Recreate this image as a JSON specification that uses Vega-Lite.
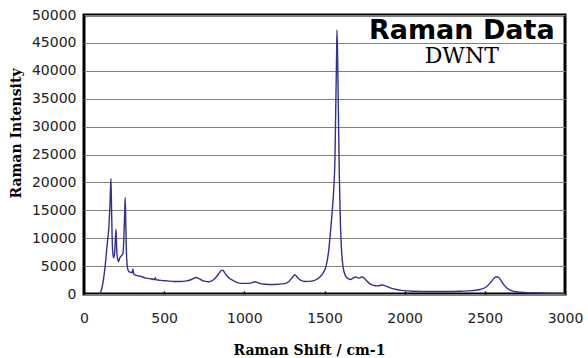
{
  "$schema": "https://vega.github.io/schema/vega-lite/v6.json",
  "width": 481,
  "height": 279,
  "autosize": {"type": "none"},
  "padding": {"top": 15, "left": 84, "right": 23, "bottom": 64},
  "background": "white",
  "title": {
    "text": "Raman Data",
    "subtitle": "DWNT",
    "anchor": "end",
    "align": "center",
    "dx": -121,
    "offset": -60,
    "font": "DejaVu Sans",
    "fontSize": 27,
    "fontWeight": "bold",
    "color": "black",
    "subtitleFont": "DejaVu Serif",
    "subtitleFontSize": 22,
    "subtitleColor": "black",
    "subtitlePadding": 1
  },
  "config": {
    "view": {"stroke": "black", "strokeWidth": 3},
    "axis": {
      "labelFont": "DejaVu Sans",
      "labelFontSize": 14,
      "labelColor": "#222222",
      "titleFont": "DejaVu Serif",
      "titleFontSize": 14,
      "titleFontWeight": "bold",
      "titleColor": "black",
      "domain": false
    }
  },
  "data": {
    "values": [
      {"shift": 100, "intensity": 0},
      {"shift": 115, "intensity": 1500},
      {"shift": 130, "intensity": 4500},
      {"shift": 145, "intensity": 9000},
      {"shift": 155, "intensity": 12000},
      {"shift": 162, "intensity": 16000},
      {"shift": 168, "intensity": 20700},
      {"shift": 172, "intensity": 15000},
      {"shift": 178, "intensity": 8000},
      {"shift": 184, "intensity": 6500},
      {"shift": 190, "intensity": 7000},
      {"shift": 196, "intensity": 10000},
      {"shift": 200, "intensity": 11600},
      {"shift": 204, "intensity": 8000},
      {"shift": 210, "intensity": 6200},
      {"shift": 216, "intensity": 5800},
      {"shift": 222, "intensity": 6400},
      {"shift": 232, "intensity": 6800},
      {"shift": 242, "intensity": 7200},
      {"shift": 248, "intensity": 9500},
      {"shift": 253, "intensity": 14000},
      {"shift": 257, "intensity": 17300},
      {"shift": 261, "intensity": 12000},
      {"shift": 266, "intensity": 6500},
      {"shift": 272, "intensity": 4600},
      {"shift": 280, "intensity": 4000},
      {"shift": 290, "intensity": 3900},
      {"shift": 300, "intensity": 3800},
      {"shift": 305, "intensity": 4500},
      {"shift": 310, "intensity": 3600},
      {"shift": 330, "intensity": 3300},
      {"shift": 350, "intensity": 3200},
      {"shift": 380, "intensity": 2900},
      {"shift": 410, "intensity": 2750},
      {"shift": 440, "intensity": 2600},
      {"shift": 445, "intensity": 2900},
      {"shift": 450, "intensity": 2550},
      {"shift": 480, "intensity": 2450},
      {"shift": 520, "intensity": 2350},
      {"shift": 560, "intensity": 2250},
      {"shift": 600, "intensity": 2250},
      {"shift": 640, "intensity": 2350},
      {"shift": 670, "intensity": 2600},
      {"shift": 700, "intensity": 2950},
      {"shift": 720, "intensity": 2700},
      {"shift": 750, "intensity": 2300},
      {"shift": 780, "intensity": 2200},
      {"shift": 810, "intensity": 2600},
      {"shift": 835, "intensity": 3400},
      {"shift": 855, "intensity": 4200},
      {"shift": 865, "intensity": 4250},
      {"shift": 880, "intensity": 3700},
      {"shift": 900, "intensity": 3000},
      {"shift": 930, "intensity": 2400},
      {"shift": 960, "intensity": 2000},
      {"shift": 1000, "intensity": 1900},
      {"shift": 1040, "intensity": 1950},
      {"shift": 1065, "intensity": 2200},
      {"shift": 1090, "intensity": 1950},
      {"shift": 1130, "intensity": 1750},
      {"shift": 1170, "intensity": 1700},
      {"shift": 1210, "intensity": 1750},
      {"shift": 1250, "intensity": 1850},
      {"shift": 1280, "intensity": 2300},
      {"shift": 1300, "intensity": 3000},
      {"shift": 1315, "intensity": 3450},
      {"shift": 1330, "intensity": 3000},
      {"shift": 1350, "intensity": 2500},
      {"shift": 1380, "intensity": 2250},
      {"shift": 1420, "intensity": 2300},
      {"shift": 1450, "intensity": 2600},
      {"shift": 1470, "intensity": 3000},
      {"shift": 1490, "intensity": 3700},
      {"shift": 1510, "intensity": 5000},
      {"shift": 1525, "intensity": 7500},
      {"shift": 1540, "intensity": 12000},
      {"shift": 1550, "intensity": 15500},
      {"shift": 1558, "intensity": 19000},
      {"shift": 1565, "intensity": 24000},
      {"shift": 1570, "intensity": 33000},
      {"shift": 1575, "intensity": 42000},
      {"shift": 1578, "intensity": 47300},
      {"shift": 1582, "intensity": 42000},
      {"shift": 1587, "intensity": 32000},
      {"shift": 1592, "intensity": 22000},
      {"shift": 1598, "intensity": 14000},
      {"shift": 1605, "intensity": 8500},
      {"shift": 1615, "intensity": 5000},
      {"shift": 1630, "intensity": 3300},
      {"shift": 1650, "intensity": 2700},
      {"shift": 1665, "intensity": 2600},
      {"shift": 1680, "intensity": 2900},
      {"shift": 1695, "intensity": 3050},
      {"shift": 1710, "intensity": 2850},
      {"shift": 1735, "intensity": 3050},
      {"shift": 1755, "intensity": 2600},
      {"shift": 1780, "intensity": 1900},
      {"shift": 1800, "intensity": 1600},
      {"shift": 1830, "intensity": 1450},
      {"shift": 1860, "intensity": 1600},
      {"shift": 1880, "intensity": 1450},
      {"shift": 1910, "intensity": 1100},
      {"shift": 1940, "intensity": 850},
      {"shift": 1980, "intensity": 650},
      {"shift": 2050, "intensity": 500},
      {"shift": 2150, "intensity": 450},
      {"shift": 2250, "intensity": 450},
      {"shift": 2350, "intensity": 500},
      {"shift": 2420, "intensity": 600},
      {"shift": 2470, "intensity": 800},
      {"shift": 2510, "intensity": 1300},
      {"shift": 2540, "intensity": 2200},
      {"shift": 2560, "intensity": 2900},
      {"shift": 2577, "intensity": 3100},
      {"shift": 2592, "intensity": 2800},
      {"shift": 2610, "intensity": 2000},
      {"shift": 2635, "intensity": 1100},
      {"shift": 2665, "intensity": 600},
      {"shift": 2705, "intensity": 350},
      {"shift": 2760, "intensity": 250},
      {"shift": 2850, "intensity": 180},
      {"shift": 2950, "intensity": 120},
      {"shift": 3000, "intensity": 100}
    ]
  },
  "mark": {"type": "line", "color": "#323288", "strokeWidth": 1.4, "interpolate": "monotone"},
  "encoding": {
    "x": {
      "field": "shift",
      "type": "quantitative",
      "scale": {"domain": [0, 3000], "nice": false},
      "axis": {
        "title": "Raman Shift / cm-1",
        "values": [0, 500, 1000, 1500, 2000, 2500, 3000],
        "format": "d",
        "grid": false,
        "ticks": true,
        "tickSize": -3,
        "tickColor": "black",
        "tickWidth": 1.5,
        "labelPadding": 20,
        "labelFlush": false,
        "titleX": 225,
        "titleY": 60,
        "titleBaseline": "alphabetic",
        "titleAlign": "center"
      }
    },
    "y": {
      "field": "intensity",
      "type": "quantitative",
      "scale": {"domain": [0, 50000], "nice": false},
      "axis": {
        "title": "Raman Intensity",
        "values": [0, 5000, 10000, 15000, 20000, 25000, 30000, 35000, 40000, 45000, 50000],
        "format": "d",
        "grid": true,
        "gridColor": "#808080",
        "gridWidth": 1,
        "gridOpacity": 1,
        "ticks": false,
        "labelPadding": 8,
        "labelFlush": false,
        "titlePadding": 8,
        "titleY": 118,
        "titleAlign": "center"
      }
    }
  }
}
